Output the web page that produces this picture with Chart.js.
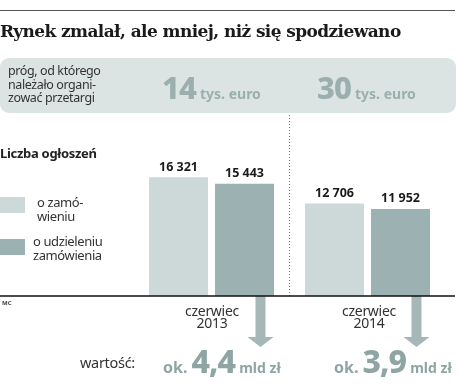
<!DOCTYPE html>
<html>
<head>
<meta charset="utf-8">
<script src="https://cdn.jsdelivr.net/npm/chart.js@4.4.0/dist/chart.umd.min.js"></script>
<style>
  html, body { margin: 0; padding: 0; background: #fff; }
  #wrap { position: relative; width: 460px; height: 384px; overflow: hidden; font-family: "Noto Sans", sans-serif; color: #222; }
  #wrap canvas { position: absolute; left: 0; top: 0; }
  .abs { position: absolute; white-space: nowrap; }
  #rule { left: 0; top: 10px; width: 455px; height: 1px; background: #555; }
  #title { left: 0; top: 21px; font-family: "DejaVu Serif", serif; font-weight: bold; font-size: 17px; letter-spacing: -0.6px; color: #1a1a1a; }
  #box { left: 0; top: 58px; width: 456px; height: 55px; background: #dce4e3; border-radius: 9px; }
  #prog { left: 8px; top: 64px; font-size: 12.5px; line-height: 13.5px; color: #333; letter-spacing: -0.4px; }
  .big { font-weight: 800; font-size: 31px; color: #9aafae; letter-spacing: -1px; }
  .unit { font-weight: 700; font-size: 14px; color: #9aafae; }
  #t14 { left: 162px; top: 66px; }
  #t30 { left: 317px; top: 66px; }
  #liczba { left: 0; top: 144px; font-weight: bold; font-size: 13px; letter-spacing: -0.3px; }
  .sq { position: absolute; left: 0; width: 25px; height: 16px; }
  .leg { font-size: 13px; line-height: 14px; color: #333; letter-spacing: -0.4px; }
  #mc { left: 2px; top: 299px; font-size: 6px; font-weight: bold; color: #444; }
  .month { font-size: 14px; line-height: 12px; color: #333; text-align: center; width: 80px; letter-spacing: -0.3px; }
  #wart { left: 80px; top: 352px; font-size: 14.5px; color: #333; letter-spacing: -0.3px; }
  .val { color: #8ea5a4; font-weight: 700; }
  .val b { font-size: 32px; font-weight: 800; letter-spacing: -1px; }
  .val span { font-size: 14px; }
</style>
</head>
<body>
<div id="wrap">
  <canvas id="chart" width="460" height="384"></canvas>
  <div class="abs" id="rule"></div>
  <div class="abs" id="title">Rynek zmalał, ale mniej, niż się spodziewano</div>
  <div class="abs" id="box"></div>
  <div class="abs" id="prog">próg, od którego<br>należało organi-<br>zować przetargi</div>
  <div class="abs" id="t14"><span class="big">14</span> <span class="unit">tys. euro</span></div>
  <div class="abs" id="t30"><span class="big">30</span> <span class="unit">tys. euro</span></div>
  <div class="abs" id="liczba">Liczba ogłoszeń</div>
  <div class="sq" style="top:197px;background:#ccd9d8"></div>
  <div class="abs leg" style="left:37px;top:195px">o zamó-<br>wieniu</div>
  <div class="sq" style="top:239px;background:#9cb1b1"></div>
  <div class="abs leg" style="left:33px;top:234px">o udzieleniu<br>zamówienia</div>
  <div class="abs" id="mc">MC</div>
  <div class="abs month" style="left:172px;top:305px">czerwiec<br>2013</div>
  <div class="abs month" style="left:329px;top:305px">czerwiec<br>2014</div>
  <div class="abs" id="wart">wartość:</div>
  <div class="abs val" style="left:163px;top:339px">ok. <b>4,4</b> <span>mld zł</span></div>
  <div class="abs val" style="left:334px;top:339px">ok. <b>3,9</b> <span>mld zł</span></div>
</div>
<script>
const categories = ['czerwiec 2013', 'czerwiec 2014'];
const announcedOrders = [16321, 12706];
const awardedOrders = [15443, 11952];
const valueLabels = ['4,4', '3,9'];

// value labels, baseline, divider and arrows
const extras = {
  id: 'extras',
  afterDatasetsDraw(chart) {
    const ctx = chart.ctx;
    const area = chart.chartArea;
    const x = chart.scales.x;

    ctx.save();
    ctx.font = 'bold 12.5px "Noto Sans"';
    ctx.fillStyle = '#1a1a1a';
    ctx.textAlign = 'center';
    ctx.textBaseline = 'bottom';
    chart.data.datasets.forEach((ds, i) => {
      chart.getDatasetMeta(i).data.forEach((bar, j) => {
        ctx.fillText(ds.data[j].toLocaleString('pl-PL').replace(/\s/g, ' '), bar.x, bar.y - 4);
      });
    });

    // dotted divider
    const mid = (x.getPixelForValue(0) + x.getPixelForValue(1)) / 2;
    ctx.strokeStyle = '#777';
    ctx.lineWidth = 1;
    ctx.setLineDash([1, 2]);
    ctx.beginPath();
    ctx.moveTo(mid, 58);
    ctx.lineTo(mid, area.bottom);
    ctx.stroke();
    ctx.setLineDash([]);

    // arrows from the second bars
    ctx.fillStyle = '#a5b8b7';
    chart.getDatasetMeta(1).data.forEach(bar => {
      const cx = bar.x + 16;
      const y0 = area.bottom;
      ctx.fillRect(cx - 5, y0, 10, 41);
      ctx.beginPath();
      ctx.moveTo(cx - 13, y0 + 41);
      ctx.lineTo(cx + 13, y0 + 41);
      ctx.lineTo(cx, y0 + 51);
      ctx.closePath();
      ctx.fill();
    });

    // baseline
    ctx.strokeStyle = '#111';
    ctx.lineWidth = 1.5;
    ctx.beginPath();
    ctx.moveTo(0, area.bottom);
    ctx.lineTo(455, area.bottom);
    ctx.stroke();
    ctx.restore();
  }
};

new Chart(document.getElementById('chart'), {
  type: 'bar',
  data: {
    labels: categories,
    datasets: [{
      label: 'o zamówieniu',
      data: announcedOrders,
      backgroundColor: '#ccd9d8',
      categoryPercentage: 0.846,
      barPercentage: 0.894
    }, {
      label: 'o udzieleniu zamówienia',
      data: awardedOrders,
      backgroundColor: '#9cb1b1',
      categoryPercentage: 0.846,
      barPercentage: 0.894
    }]
  },
  options: {
    responsive: false,
    animation: false,
    layout: { padding: { left: 133.5, right: 14.5, top: 136, bottom: 88 } },
    plugins: { legend: { display: false }, tooltip: { enabled: false } },
    scales: {
      x: { display: false },
      y: { display: false, min: 0, max: 22000 }
    }
  },
  plugins: [extras]
});
</script>
</body>
</html>
